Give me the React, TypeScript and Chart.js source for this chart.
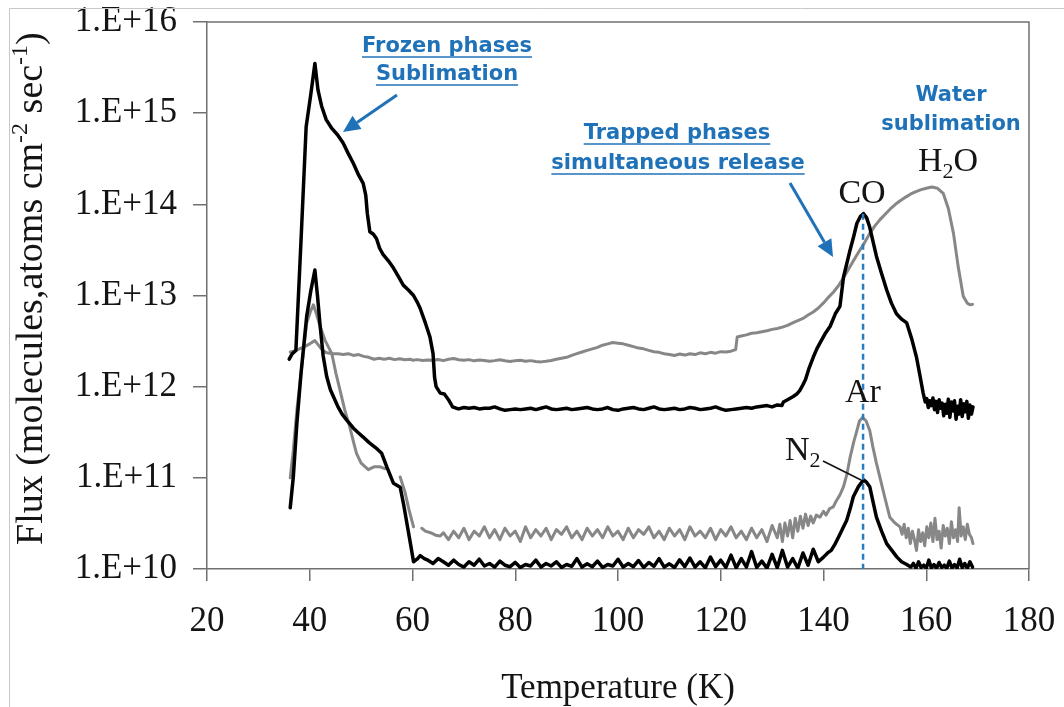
import React, { useEffect, useRef } from "react";
import { Chart, registerables } from "chart.js";

Chart.register(...registerables);

const xTickValues = [20, 40, 60, 80, 100, 120, 140, 160, 180];
const yTickValues = [1e10, 1e11, 1e12, 1e13, 1e14, 1e15, 1e16];

// [temperature K, flux]
const coData: [number, number][] = [
  [36.0, 2.0e12], [36.6, 2.3e12], [37.3, 2.5e12], [38.3, 4.0e13], [39.3, 7.1e14], [40.2, 1.6e15], [41.0, 3.5e15],
  [41.6, 1.8e15], [42.3, 1.2e15], [43.2, 8.5e14], [44.3, 6.8e14], [45.4, 5.8e14], [46.5, 4.7e14], [47.5, 3.6e14],
  [48.5, 2.8e14], [49.5, 2.1e14], [50.4, 1.7e14], [50.9, 1.26e14], [51.2, 8.0e13], [51.7, 5.0e13], [52.4, 4.7e13],
  [53.0, 4.2e13], [53.6, 3.3e13], [54.3, 2.8e13], [55.3, 2.4e13], [56.3, 2.0e13], [57.3, 1.6e13], [58.2, 1.3e13],
  [59.2, 1.15e13], [60.2, 1.0e13], [61.0, 8.3e12], [61.5, 7.2e12], [62.5, 5.0e12], [63.4, 3.5e12], [64.0, 2.3e12],
  [64.3, 1.26e12], [64.6, 1.0e12], [65.4, 8.5e11], [66.2, 8.3e11], [67.0, 7.2e11], [67.8, 6.0e11], [68.5, 5.8e11],
  [69, 5.7e11], [70, 5.9e11], [71, 5.8e11], [72, 5.9e11], [73, 5.7e11], [74, 5.8e11], [75, 5.8e11], [76, 6.0e11],
  [77, 5.7e11], [78, 5.5e11], [79, 5.6e11], [80, 5.7e11], [81, 5.6e11], [82, 5.7e11], [83, 5.8e11], [84, 5.6e11],
  [85, 5.8e11], [86, 6.0e11], [87, 5.7e11], [88, 5.6e11], [89, 5.7e11], [90, 5.8e11], [91, 5.6e11], [92, 5.7e11],
  [93, 5.8e11], [94, 5.9e11], [95, 5.7e11], [96, 5.6e11], [97, 5.7e11], [98, 5.9e11], [99, 5.6e11], [100, 5.5e11],
  [101, 5.7e11], [102, 5.8e11], [103, 5.9e11], [104, 5.7e11], [105, 5.6e11], [106, 5.8e11], [107, 6.0e11],
  [108, 5.7e11], [109, 5.6e11], [110, 5.7e11], [111, 5.8e11], [112, 5.6e11], [113, 5.7e11], [114, 5.9e11],
  [115, 5.8e11], [116, 5.6e11], [117, 5.7e11], [118, 5.8e11], [119, 6.0e11], [120, 5.7e11], [121, 5.5e11],
  [122, 5.6e11], [123, 5.7e11], [124, 5.8e11], [125, 5.9e11], [126, 5.8e11], [127, 6.0e11], [128, 6.1e11],
  [129, 6.2e11], [130, 6.0e11], [131, 6.3e11], [131.9, 6.2e11], [132.2, 6.8e11], [133.0, 7.2e11], [134.1, 7.8e11],
  [134.8, 8.3e11], [135.4, 9.1e11], [136.0, 1.05e12], [136.5, 1.2e12], [137.2, 1.6e12], [138.0, 2.1e12],
  [138.7, 2.6e12], [139.3, 3.0e12], [140.3, 3.8e12], [141.3, 4.6e12], [142.3, 6.3e12], [143.2, 7.6e12],
  [143.9, 1.6e13], [144.5, 2.2e13], [145.2, 3.2e13], [145.9, 4.5e13], [146.5, 6.2e13], [147.2, 7.4e13],
  [147.8, 7.9e13], [148.4, 7.1e13], [149.0, 5.6e13], [149.6, 4.0e13], [150.3, 2.7e13], [151.3, 1.74e13],
  [152.3, 1.15e13], [153.2, 8.3e12], [154.2, 6.3e12], [155.2, 5.5e12], [156.2, 5.0e12], [157.2, 3.3e12],
  [158.1, 2.1e12], [158.8, 1.3e12], [159.4, 8.5e11], [159.8, 6.8e11], [160.1, 7.4e11], [160.4, 5.9e11],
  [160.7, 7.0e11], [161.0, 6.2e11], [161.3, 7.5e11], [161.6, 5.6e11], [161.9, 6.9e11], [162.2, 5.2e11],
  [162.5, 7.2e11], [162.8, 5.8e11], [163.1, 6.6e11], [163.4, 4.8e11], [163.7, 6.4e11], [164.0, 5.1e11],
  [164.3, 7.3e11], [164.6, 4.6e11], [164.9, 6.8e11], [165.2, 5.4e11], [165.5, 7.0e11], [165.8, 4.4e11],
  [166.1, 6.1e11], [166.4, 5.0e11], [166.7, 7.2e11], [167.0, 4.7e11], [167.3, 6.5e11], [167.6, 5.3e11],
  [167.9, 6.9e11], [168.2, 4.5e11], [168.5, 6.3e11], [168.8, 5.0e11], [169.1, 6.0e11],
];

const h2oData: [number, number][] = [
  [36.2, 2.4e12], [37.0, 2.45e12], [38.0, 2.6e12], [39.0, 2.75e12], [40.0, 2.95e12], [41.0, 3.2e12], [41.8, 2.8e12],
  [42.5, 2.5e12], [43.3, 2.35e12], [44.5, 2.3e12], [45.5, 2.3e12], [46.5, 2.25e12], [47.5, 2.3e12], [48.5, 2.2e12],
  [49.5, 2.25e12], [50.5, 2.15e12], [51.5, 2.1e12], [52.5, 2.0e12], [53.5, 2.05e12], [54.5, 2.0e12], [55.5, 2.05e12],
  [56.5, 1.98e12], [57.5, 2.02e12], [58.5, 1.97e12], [59.5, 2.0e12], [60, 1.95e12], [61, 1.98e12], [62, 1.94e12],
  [63, 1.96e12], [64, 1.95e12], [65, 1.99e12], [66, 1.93e12], [67, 2.0e12], [68, 2.04e12], [69, 1.97e12],
  [70, 1.95e12], [71, 1.98e12], [72, 1.92e12], [73, 1.96e12], [74, 1.94e12], [75, 1.9e12], [76, 1.93e12],
  [77, 1.97e12], [78, 1.92e12], [79, 1.89e12], [80, 1.93e12], [81, 1.95e12], [82, 1.9e12], [83, 1.93e12],
  [84, 1.89e12], [85, 1.87e12], [86, 1.9e12], [87, 1.94e12], [88, 2.0e12], [89, 2.05e12], [90, 2.1e12],
  [91, 2.2e12], [92, 2.3e12], [93, 2.4e12], [94, 2.5e12], [95, 2.6e12], [96, 2.7e12], [97, 2.85e12], [98, 2.95e12],
  [99, 3.05e12], [100, 3.0e12], [101, 2.95e12], [102, 2.85e12], [103, 2.75e12], [104, 2.65e12], [105, 2.6e12],
  [106, 2.5e12], [107, 2.42e12], [108, 2.38e12], [109, 2.3e12], [110, 2.25e12], [111, 2.2e12], [112, 2.28e12],
  [113, 2.22e12], [114, 2.3e12], [115, 2.25e12], [116, 2.35e12], [117, 2.3e12], [118, 2.38e12], [119, 2.33e12],
  [120, 2.42e12], [121, 2.4e12], [122, 2.45e12], [122.9, 2.55e12], [123.2, 3.5e12], [124, 3.6e12], [125, 3.7e12],
  [126, 3.85e12], [127, 3.9e12], [128, 4.0e12], [129, 4.1e12], [130, 4.25e12], [131, 4.35e12], [132, 4.5e12],
  [133, 4.7e12], [134, 5.0e12], [135, 5.3e12], [136, 5.6e12], [137, 6.1e12], [138, 6.6e12], [139, 7.3e12],
  [140, 8.3e12], [141, 9.6e12], [142, 1.1e13], [143, 1.3e13], [144, 1.6e13], [145, 2.0e13], [146, 2.5e13],
  [147, 3.1e13], [148, 3.8e13], [149, 4.8e13], [150, 5.8e13], [151, 6.8e13], [152, 7.8e13], [153, 8.9e13],
  [154, 1.0e14], [155, 1.1e14], [156, 1.2e14], [157, 1.3e14], [158, 1.38e14], [159, 1.45e14], [160, 1.5e14],
  [161.1, 1.55e14], [162.2, 1.5e14], [163.3, 1.32e14], [164.3, 9.0e13], [165.3, 4.8e13], [166.2, 2.1e13],
  [167.2, 9.8e12], [168.0, 8.2e12], [168.6, 7.9e12], [169.0, 8.0e12],
];

const arData: [number, number | null][] = [
  [36.2, 1.0e11], [36.8, 2.0e11], [37.5, 5.6e11], [38.1, 1.1e12], [38.8, 2.5e12], [39.4, 5.0e12], [40.1, 6.6e12],
  [40.7, 7.9e12], [41.3, 6.3e12], [42.0, 4.6e12], [43.0, 3.2e12], [44.3, 2.3e12], [45.1, 1.4e12], [45.9, 9.1e11],
  [46.8, 5.6e11], [47.8, 3.6e11], [48.5, 2.5e11], [49.1, 1.86e11], [50.0, 1.45e11], [51.4, 1.23e11], [52.5, 1.32e11],
  [53.7, 1.32e11], [54.6, 1.26e11], [56.0, null], [57.6, 1.02e11], [58.5, 7.1e10], [59.3, 4.5e10], [60.2, 2.9e10],
  [61.0, null], [61.8, 2.8e10], [62.5, 2.6e10], [63.5, 2.5e10], [64.5, 2.35e10], [65.4, 2.3e10],
  [66, 2.5e10], [67, 2.1e10], [68, 2.6e10], [69, 2.2e10], [70, 2.8e10], [71, 2.1e10], [72, 2.6e10], [73, 2.3e10],
  [74, 2.9e10], [75, 2.2e10], [76, 2.7e10], [77, 2.1e10], [78, 2.8e10], [79, 2.3e10], [80, 2.6e10], [81, 2.0e10],
  [82, 2.9e10], [83, 2.2e10], [84, 2.7e10], [85, 2.3e10], [86, 2.8e10], [87, 2.1e10], [88, 2.7e10], [89, 2.4e10],
  [90, 2.9e10], [91, 2.2e10], [92, 2.6e10], [93, 2.1e10], [94, 2.8e10], [95, 2.3e10], [96, 2.7e10], [97, 2.2e10],
  [98, 2.9e10], [99, 2.3e10], [100, 2.6e10], [101, 2.1e10], [102, 2.8e10], [103, 2.2e10], [104, 2.7e10],
  [105, 2.4e10], [106, 2.9e10], [107, 2.2e10], [108, 2.6e10], [109, 2.1e10], [110, 2.8e10], [111, 2.3e10],
  [112, 2.7e10], [113, 2.1e10], [114, 2.9e10], [115, 2.3e10], [116, 2.6e10], [117, 2.2e10], [118, 2.8e10],
  [119, 2.1e10], [120, 2.7e10], [121, 2.3e10], [122, 2.9e10], [123, 2.2e10], [124, 2.6e10], [125, 2.1e10],
  [126, 2.8e10], [127, 2.2e10], [128, 2.7e10], [129, 2.0e10], [130, 3.0e10], [131, 2.2e10], [131.5, 3.1e10],
  [132, 2.0e10], [132.5, 3.2e10], [133, 2.3e10], [133.5, 3.4e10], [134, 2.2e10], [134.5, 3.6e10], [135, 2.6e10],
  [135.5, 3.8e10], [136, 2.8e10], [136.5, 4.0e10], [137, 3.0e10], [137.5, 3.8e10], [138, 3.2e10], [138.6, 3.9e10],
  [139.3, 3.7e10], [140.0, 4.3e10], [140.5, 3.9e10], [141.2, 4.6e10], [141.9, 4.8e10], [142.5, 5.6e10],
  [143.2, 6.5e10], [143.9, 8.0e10], [144.6, 1.12e11], [145.2, 1.7e11], [145.9, 2.5e11], [146.5, 3.3e11],
  [147.0, 4.2e11], [147.6, 4.6e11], [148.3, 4.2e11], [149.0, 3.3e11], [149.6, 2.2e11], [150.3, 1.45e11],
  [151.1, 9.5e10], [151.9, 6.2e10], [152.9, 3.7e10], [153.9, 3.2e10], [154.9, 2.9e10], [155.3, 2.4e10],
  [155.7, 3.1e10], [156.1, 2.2e10], [156.5, 2.8e10], [156.9, 1.9e10], [157.3, 2.6e10], [157.7, 2.1e10],
  [158.1, 1.6e10], [158.5, 2.7e10], [158.9, 2.0e10], [159.3, 2.5e10], [159.7, 1.8e10], [160.1, 2.9e10],
  [160.5, 2.2e10], [160.9, 3.2e10], [161.3, 2.0e10], [161.7, 3.6e10], [162.1, 2.1e10], [162.5, 2.6e10],
  [162.9, 1.7e10], [163.3, 3.0e10], [163.7, 2.3e10], [164.1, 2.8e10], [164.5, 1.9e10], [164.9, 3.3e10],
  [165.3, 2.2e10], [165.7, 2.7e10], [166.1, 2.0e10], [166.4, 4.7e10], [166.8, 2.3e10], [167.2, 2.9e10],
  [167.6, 2.1e10], [168.0, 3.1e10], [168.4, 2.4e10], [168.8, 2.2e10], [169.1, 1.9e10],
];

const n2Data: [number, number][] = [
  [36.2, 4.7e10], [36.8, 1.02e11], [37.5, 4.0e11], [38.3, 1.4e12], [39.4, 5.9e12], [40.2, 1.12e13], [41.0, 1.9e13],
  [41.5, 1.0e13], [42.0, 4.8e12], [42.6, 2.2e12], [43.3, 1.29e12], [44.0, 9.3e11], [44.6, 7.8e11], [45.5, 6.0e11],
  [46.3, 5.0e11], [47.2, 4.3e11], [48.5, 3.5e11], [49.5, 3.1e11], [50.4, 2.8e11], [51.5, 2.45e11], [52.8, 2.15e11],
  [54.0, 1.86e11], [55.0, 1.32e11], [56.3, 8.7e10], [57.6, 7.9e10], [58.3, 5.0e10], [58.9, 3.2e10], [59.6, 1.9e10],
  [60.2, 1.2e10], [61.0, 1.3e10], [61.5, 1.4e10], [62.3, 1.3e10],
  [63, 1.25e10], [64, 1.15e10], [65, 1.3e10], [66, 1.2e10], [67, 1.1e10], [68, 1.25e10], [69, 1.12e10],
  [70, 1.05e10], [71, 1.2e10], [72, 1.1e10], [73, 1.28e10], [74, 1.08e10], [75, 1.15e10], [76, 1.05e10],
  [77, 1.22e10], [78, 1.1e10], [79, 1.06e10], [80, 1.18e10], [81, 1.04e10], [82, 1.12e10], [83, 1.08e10],
  [84, 1.25e10], [85, 1.05e10], [86, 1.15e10], [87, 1.08e10], [88, 1.2e10], [89, 1.04e10], [90, 1.12e10],
  [91, 1.07e10], [92, 1.3e10], [93, 1.05e10], [94, 1.14e10], [95, 1.06e10], [96, 1.22e10], [97, 1.04e10],
  [98, 1.12e10], [99, 1.08e10], [100, 1.28e10], [101, 1.05e10], [102, 1.15e10], [103, 1.06e10], [104, 1.24e10],
  [105, 1.04e10], [106, 1.18e10], [107, 1.07e10], [108, 1.3e10], [109, 1.05e10], [110, 1.14e10], [111, 1.04e10],
  [112, 1.26e10], [113, 1.06e10], [114, 1.32e10], [115, 1.05e10], [116, 1.2e10], [117, 1.03e10], [118, 1.35e10],
  [119, 1.06e10], [120, 1.25e10], [121, 1.04e10], [122, 1.42e10], [123, 1.03e10], [124, 1.3e10], [125, 1.05e10],
  [126, 1.55e10], [127, 1.04e10], [128, 1.22e10], [129, 1.02e10], [130, 1.45e10], [131, 1.03e10], [132, 1.6e10],
  [133, 1.05e10], [134, 1.3e10], [135, 1.02e10], [136, 1.5e10], [137, 1.1e10], [138, 1.65e10], [139, 1.2e10],
  [140.0, 1.35e10], [140.8, 1.5e10], [141.5, 1.6e10], [142.3, 1.9e10], [143.2, 2.4e10], [143.9, 2.9e10],
  [144.5, 3.4e10], [145.2, 4.6e10], [145.8, 6.2e10], [146.8, 8.0e10], [147.8, 9.5e10], [148.4, 8.9e10],
  [149.0, 8.0e10], [149.6, 5.6e10], [150.3, 3.7e10], [151.3, 2.6e10], [152.3, 1.9e10], [153.3, 1.6e10],
  [154.3, 1.35e10], [155.2, 1.2e10], [156.2, 1.12e10], [157, 1.05e10], [157.5, 1.15e10], [158, 1.02e10],
  [158.5, 1.2e10], [159, 1.04e10], [159.5, 1.1e10], [160, 1.02e10], [160.5, 1.25e10], [161, 1.03e10],
  [161.5, 1.12e10], [162, 1.02e10], [162.5, 1.18e10], [163, 1.04e10], [163.5, 1.1e10], [164, 1.02e10],
  [164.5, 1.22e10], [165, 1.03e10], [165.5, 1.12e10], [166, 1.02e10], [166.5, 1.28e10], [167, 1.03e10],
  [167.5, 1.15e10], [168, 1.02e10], [168.5, 1.2e10], [169, 1.05e10],
];

// CO peak used for the dashed guide line
const peakTemp = 147.7;
const peakFlux = 7.9e13;

const BLUE = "#1f72b8";
const AXIS = "#707070";
const TEXT = "#141414";
const SERIF = "'Liberation Serif', 'Times New Roman', serif";
const SANS = "'DejaVu Sans', 'Liberation Sans', sans-serif";

const toPoints = (d: [number, number | null][]) => d.map(([x, y]) => ({ x, y }));

function centered(ctx: CanvasRenderingContext2D, text: string, cx: number, base: number, underline: boolean) {
  const w = ctx.measureText(text).width;
  ctx.fillText(text, cx - w / 2, base);
  if (underline) {
    ctx.save();
    ctx.strokeStyle = ctx.fillStyle as string;
    ctx.lineWidth = 1.6;
    ctx.beginPath();
    ctx.moveTo(cx - w / 2, base + 5);
    ctx.lineTo(cx + w / 2, base + 5);
    ctx.stroke();
    ctx.restore();
  }
}

function arrow(ctx: CanvasRenderingContext2D, x1: number, y1: number, x2: number, y2: number) {
  const ang = Math.atan2(y2 - y1, x2 - x1);
  const len = 17;
  const hw = 8;
  const bx = x2 - len * Math.cos(ang);
  const by = y2 - len * Math.sin(ang);
  ctx.beginPath();
  ctx.moveTo(x1, y1);
  ctx.lineTo(bx, by);
  ctx.stroke();
  ctx.beginPath();
  ctx.moveTo(x2, y2);
  ctx.lineTo(bx + hw * Math.sin(ang), by - hw * Math.cos(ang));
  ctx.lineTo(bx - hw * Math.sin(ang), by + hw * Math.cos(ang));
  ctx.closePath();
  ctx.fill();
}

const noScalePadding = (s: any) => {
  s.paddingTop = 0;
  s.paddingBottom = 0;
  s.paddingLeft = 0;
  s.paddingRight = 0;
};

const overlayPlugin = {
  id: "overlay",
  beforeDraw(chart: any) {
    const { ctx, width, height } = chart;
    ctx.save();
    ctx.fillStyle = "#ffffff";
    ctx.fillRect(0, 0, width, height);
    ctx.restore();
  },
  afterDatasetsDraw(chart: any) {
    const { ctx, chartArea: a, scales } = chart;
    const xs = scales.x;
    const ys = scales.y;
    ctx.save();
    // dashed guide through the CO / Ar / N2 peaks
    const px = xs.getPixelForValue(peakTemp);
    ctx.setLineDash([6, 4]);
    ctx.strokeStyle = "#2b7bc1";
    ctx.lineWidth = 2.5;
    ctx.beginPath();
    ctx.moveTo(px, ys.getPixelForValue(peakFlux));
    ctx.lineTo(px, a.bottom);
    ctx.stroke();
    ctx.setLineDash([]);
    ctx.restore();
  },
  afterDraw(chart: any) {
    const { ctx, chartArea: a } = chart;
    ctx.save();
    // plot box top/right
    ctx.strokeStyle = AXIS;
    ctx.lineWidth = 1.5;
    ctx.beginPath();
    ctx.moveTo(a.left, a.top);
    ctx.lineTo(a.right, a.top);
    ctx.lineTo(a.right, a.bottom);
    ctx.stroke();

    // outer picture frame (left/top)
    ctx.strokeStyle = "#c8c8c8";
    ctx.lineWidth = 1;
    ctx.beginPath();
    ctx.moveTo(9.5, 707);
    ctx.lineTo(9.5, 8.5);
    ctx.lineTo(1064, 8.5);
    ctx.stroke();

    // series labels
    ctx.fillStyle = TEXT;
    ctx.textBaseline = "alphabetic";
    ctx.font = `34px ${SERIF}`;
    centered(ctx, "CO", 862, 203, false);
    centered(ctx, "Ar", 863, 402, false);
    // H2O
    let cx = 918;
    ctx.font = `34px ${SERIF}`;
    ctx.fillText("H", cx, 171);
    cx += ctx.measureText("H").width;
    ctx.font = `22px ${SERIF}`;
    ctx.fillText("2", cx, 178);
    cx += ctx.measureText("2").width;
    ctx.font = `34px ${SERIF}`;
    ctx.fillText("O", cx, 171);
    // N2
    cx = 785;
    ctx.font = `34px ${SERIF}`;
    ctx.fillText("N", cx, 460);
    cx += ctx.measureText("N").width;
    ctx.font = `22px ${SERIF}`;
    ctx.fillText("2", cx, 467);
    ctx.strokeStyle = TEXT;
    ctx.lineWidth = 1.6;
    ctx.beginPath();
    ctx.moveTo(823, 461);
    ctx.lineTo(861, 480);
    ctx.stroke();

    // blue annotations
    ctx.fillStyle = BLUE;
    ctx.strokeStyle = BLUE;
    ctx.font = `bold 21px ${SANS}`;
    centered(ctx, "Frozen phases", 447, 52, true);
    centered(ctx, "Sublimation", 447, 80, true);
    centered(ctx, "Trapped phases", 677, 139, true);
    centered(ctx, "simultaneous release", 678, 169, true);
    centered(ctx, "Water", 951, 101, false);
    centered(ctx, "sublimation", 951, 130, false);
    ctx.lineWidth = 3;
    arrow(ctx, 397, 95, 343, 132);
    arrow(ctx, 790, 183, 833, 257);

    // x-axis title
    ctx.fillStyle = TEXT;
    ctx.font = `35px ${SERIF}`;
    centered(ctx, "Temperature (K)", (a.left + a.right) / 2, 698, false);

    // y-axis title (rotated, with superscripts)
    ctx.translate(42, 545);
    ctx.rotate(-Math.PI / 2);
    const parts: [string, boolean][] = [
      ["Flux (molecules,atoms cm", false],
      ["-2", true],
      [" sec", false],
      ["-1", true],
      [")", false],
    ];
    let tx = 0;
    for (const [t, sup] of parts) {
      ctx.font = sup ? `24px ${SERIF}` : `38px ${SERIF}`;
      ctx.fillText(t, tx, sup ? -15 : 0);
      tx += ctx.measureText(t).width;
    }
    ctx.restore();
  },
};

export default function App() {
  const ref = useRef<HTMLCanvasElement>(null);

  useEffect(() => {
    const canvas = ref.current;
    if (!canvas) return;
    const tickFont = { family: SERIF, size: 35 };
    const chart = new Chart(canvas, {
      type: "line",
      data: {
        datasets: [
          {
            label: "CO",
            data: toPoints(coData),
            borderColor: "#000000",
            borderWidth: 3.5,
            pointRadius: 0,
            tension: 0,
            order: 0,
          },
          {
            label: "N2",
            data: toPoints(n2Data),
            borderColor: "#000000",
            borderWidth: 3.5,
            pointRadius: 0,
            tension: 0,
            order: 0,
          },
          {
            label: "H2O",
            data: toPoints(h2oData),
            borderColor: "#878787",
            borderWidth: 3,
            pointRadius: 0,
            tension: 0,
            order: 1,
          },
          {
            label: "Ar",
            data: toPoints(arData),
            borderColor: "#878787",
            borderWidth: 3,
            pointRadius: 0,
            tension: 0,
            spanGaps: false,
            order: 1,
          },
        ],
      },
      options: {
        responsive: false,
        animation: false,
        events: [],
        layout: { padding: { left: 0, right: 35, top: 22, bottom: 0 } },
        plugins: {
          legend: { display: false },
          tooltip: { enabled: false },
          title: { display: false },
        },
        elements: { line: { borderJoinStyle: "round", borderCapStyle: "round" } },
        scales: {
          x: {
            type: "linear",
            min: 20,
            max: 180,
            afterBuildTicks: (s: any) => {
              s.ticks = xTickValues.map((v) => ({ value: v }));
            },
            afterFit: (s: any) => {
              s.height = 138;
              noScalePadding(s);
            },
            grid: {
              drawOnChartArea: false,
              drawTicks: true,
              tickLength: 12,
              color: AXIS,
              lineWidth: 1.5,
            },
            border: { display: true, color: AXIS, width: 1.5 },
            ticks: {
              font: tickFont,
              color: TEXT,
              padding: 20,
              maxRotation: 0,
              autoSkip: false,
              callback: (v: any) => String(v),
            },
          },
          y: {
            type: "logarithmic",
            min: 1e10,
            max: 1e16,
            afterBuildTicks: (s: any) => {
              s.ticks = yTickValues.map((v) => ({ value: v }));
            },
            afterFit: (s: any) => {
              s.width = 207;
              noScalePadding(s);
            },
            grid: {
              drawOnChartArea: false,
              drawTicks: true,
              tickLength: 14,
              color: AXIS,
              lineWidth: 1.5,
            },
            border: { display: true, color: AXIS, width: 1.5 },
            ticks: {
              font: tickFont,
              color: TEXT,
              padding: 16,
              autoSkip: false,
              callback: (v: any) => "1.E+" + Math.round(Math.log10(Number(v))),
            },
          },
        },
      },
      plugins: [overlayPlugin],
    } as any);
    return () => chart.destroy();
  }, []);

  return (
    <div style={{ position: "fixed", left: 0, top: 0, width: 1064, height: 707, background: "#ffffff" }}>
      <canvas ref={ref} width={1064} height={707} style={{ width: "1064px", height: "707px", display: "block" }} />
    </div>
  );
}
